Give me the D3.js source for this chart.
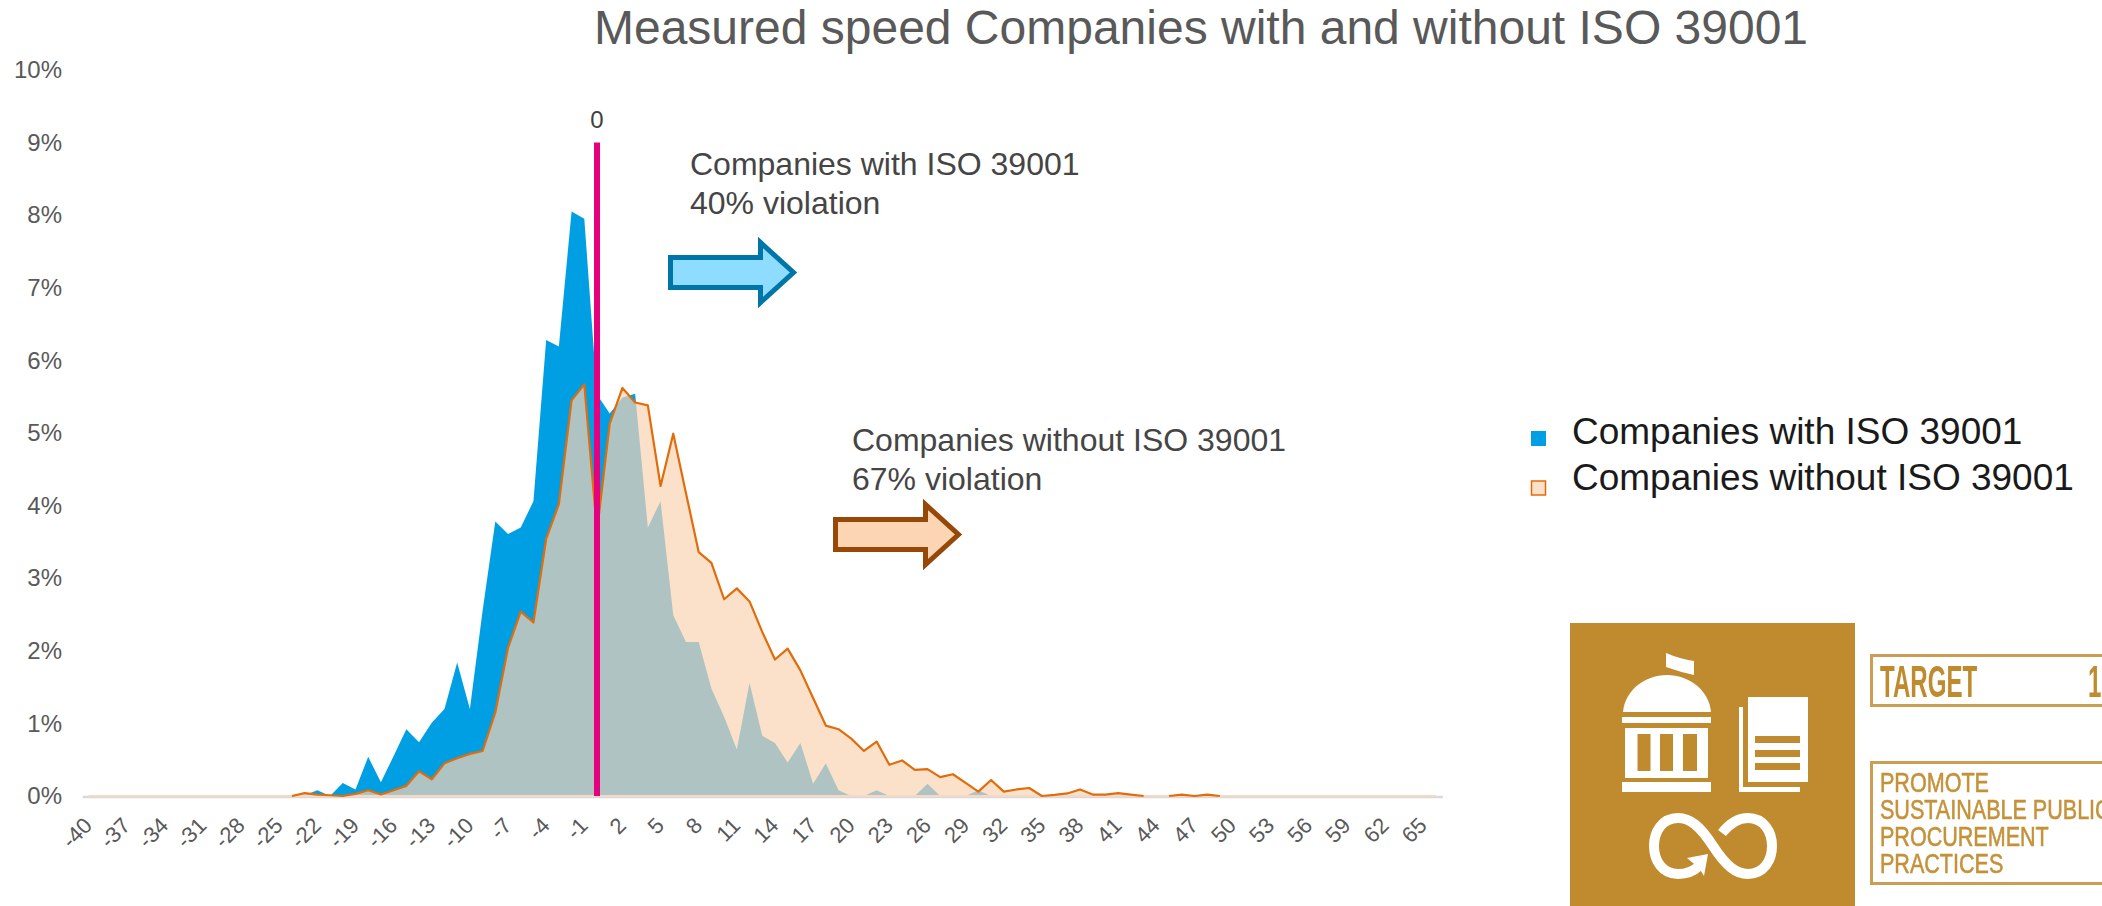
<!DOCTYPE html>
<html>
<head>
<meta charset="utf-8">
<script src="https://cdn.jsdelivr.net/npm/d3@7"></script>
<style>
  html, body { margin: 0; background: #fff; overflow: hidden; }
  text { font-family: "Liberation Sans", Arial, sans-serif; }
</style>
</head>
<body>
<div id="chart"></div>
<script>
const categories = [
  -40, -39, -38, -37, -36, -35, -34, -33, -32, -31,
  -30, -29, -28, -27, -26, -25, -24, -23, -22, -21,
  -20, -19, -18, -17, -16, -15, -14, -13, -12, -11,
  -10, -9, -8, -7, -6, -5, -4, -3, -2, -1,
  0, 1, 2, 3, 4, 5, 6, 7, 8, 9,
  10, 11, 12, 13, 14, 15, 16, 17, 18, 19,
  20, 21, 22, 23, 24, 25, 26, 27, 28, 29,
  30, 31, 32, 33, 34, 35, 36, 37, 38, 39,
  40, 41, 42, 43, 44, 45, 46, 47, 48, 49,
  50, 51, 52, 53, 54, 55, 56, 57, 58, 59,
  60, 61, 62, 63, 64, 65, 66
]
const withIso = [
  0, 0, 0, 0, 0, 0, 0, 0, 0, 0,
  0, 0, 0, 0, 0, 0, 0, 0.01, 0.08, 0,
  0.18, 0.09, 0.54, 0.19, 0.55, 0.92, 0.74, 1.01, 1.2, 1.84,
  1.2, 2.55, 3.78, 3.61, 3.7, 4.06, 6.28, 6.19, 8.05, 7.95,
  5.53, 5.27, 5.49, 5.54, 3.7, 4.06, 2.49, 2.12, 2.12, 1.48,
  1.09, 0.64, 1.56, 0.83, 0.73, 0.46, 0.73, 0.17, 0.45, 0.08,
  0, 0, 0.08, 0, 0, 0, 0.17, 0, 0, 0,
  0.08, 0, 0, 0, 0, 0, 0, 0, 0, 0,
  0, 0, 0, 0, 0, 0, 0, 0, 0, 0,
  0, 0, 0, 0, 0, 0, 0, 0, 0, 0,
  0, 0, 0, 0, 0, 0, 0
]
const withoutIso = [
  0, 0, 0, 0, 0, 0, 0, 0, 0, 0,
  0, 0, 0, 0, 0, 0, 0, 0.04, 0.02, 0.01,
  0, 0.03, 0.08, 0.02, 0.08, 0.14, 0.34, 0.23, 0.45, 0.52,
  0.58, 0.62, 1.15, 2.04, 2.54, 2.39, 3.54, 4.02, 5.45, 5.67,
  3.65, 5.13, 5.62, 5.42, 5.38, 4.27, 4.99, 4.17, 3.36, 3.21,
  2.71, 2.86, 2.68, 2.26, 1.88, 2.03, 1.73, 1.35, 0.97, 0.92,
  0.79, 0.62, 0.75, 0.43, 0.49, 0.36, 0.37, 0.26, 0.3, 0.18,
  0.06, 0.22, 0.06, 0.09, 0.11, 0, 0.015, 0.035, 0.09, 0.02,
  0.02, 0.04, 0.02, 0, 0, 0, 0.02, 0, 0.02, 0,
  0, 0, 0, 0, 0, 0, 0, 0, 0, 0,
  0, 0, 0, 0, 0, 0, 0
]
const xTickLabels = [
  -40, -37, -34, -31, -28, -25, -22, -19, -16, -13, -10, -7, -4, -1,
  2, 5, 8, 11, 14, 17, 20, 23, 26, 29, 32, 35, 38, 41, 44, 47, 50, 53, 56, 59, 62, 65
]
const yTicks = [0, 1, 2, 3, 4, 5, 6, 7, 8, 9, 10]
const zeroLineTop = 9
const legendLabels = ['Companies with ISO 39001', 'Companies without ISO 39001']
const noteWith = ['Companies with ISO 39001', '40% violation']
const noteWithout = ['Companies without ISO 39001', '67% violation']
const promoteLines = ['PROMOTE', 'SUSTAINABLE PUBLIC', 'PROCUREMENT', 'PRACTICES']

const width = 2102
const height = 906
const gold = '#bf8b2e'

const svg = d3
  .select('#chart')
  .append('svg')
  .attr('width', width)
  .attr('height', height)
  .style('display', 'block')

// the badge in the reference is a soft, scaled up image
svg
  .append('filter')
  .attr('id', 'soft')
  .append('feGaussianBlur')
  .attr('stdDeviation', 0.6)

// scales
const xScale = d3.scalePoint().domain(categories).range([82.2, 1442.3]).padding(0.5)
const yScale = d3.scaleLinear().domain([0, 10]).range([796, 70])

// title
svg
  .append('text')
  .attr('x', 1201)
  .attr('y', 44)
  .attr('text-anchor', 'middle')
  .attr('font-size', 48)
  .attr('fill', '#595959')
  .text('Measured speed Companies with and without ISO 39001')

// areas
const area = (values) =>
  d3
    .area()
    .x((d, i) => xScale(categories[i]))
    .y0(yScale(0))
    .y1((d) => yScale(d))(values)

svg.append('path').attr('d', area(withIso)).attr('fill', '#009fe3')
svg
  .append('path')
  .attr('d', area(withoutIso))
  .attr('fill', '#fad4b3')
  .attr('fill-opacity', 0.7)

// axes
const xAxis = svg
  .append('g')
  .attr('transform', `translate(0, ${yScale(0) + 0.5})`)
  .call(d3.axisBottom(xScale).tickValues(xTickLabels).tickSize(0))
xAxis.select('.domain').attr('stroke', '#d9d9d9').attr('stroke-width', 2.5)
xAxis
  .selectAll('text')
  .attr('font-family', '"Liberation Sans", Arial, sans-serif')
  .attr('font-size', 22)
  .attr('fill', '#595959')
  .attr('text-anchor', 'end')
  .attr('x', 0)
  .attr('y', 0)
  .attr('dy', '0.35em')
  .attr('transform', 'translate(-1, 25) rotate(-45)')

const yAxis = svg
  .append('g')
  .attr('transform', 'translate(62, 0)')
  .call(d3.axisLeft(yScale).tickValues(yTicks).tickSize(0).tickPadding(0).tickFormat((d) => d + '%'))
yAxis.select('.domain').remove()
yAxis
  .selectAll('text')
  .attr('font-family', '"Liberation Sans", Arial, sans-serif')
  .attr('font-size', 24)
  .attr('fill', '#595959')

// peach baseline, the orange stroke only shows where the series is above zero
svg
  .append('line')
  .attr('x1', xScale(categories[0]))
  .attr('x2', xScale(categories[categories.length - 1]))
  .attr('y1', yScale(0))
  .attr('y2', yScale(0))
  .attr('stroke', '#f3d9c6')
  .attr('stroke-width', 2)

const orangeLine = d3
  .line()
  .defined((d, i) => d > 0 || withoutIso[i - 1] > 0 || withoutIso[i + 1] > 0)
  .x((d, i) => xScale(categories[i]))
  .y((d) => yScale(d))
svg
  .append('path')
  .attr('d', orangeLine(withoutIso))
  .attr('fill', 'none')
  .attr('stroke', '#e36c0a')
  .attr('stroke-width', 2.2)
  .attr('stroke-linejoin', 'round')

// zero marker
svg
  .append('line')
  .attr('x1', xScale(0))
  .attr('x2', xScale(0))
  .attr('y1', yScale(0))
  .attr('y2', yScale(zeroLineTop))
  .attr('stroke', '#e6007e')
  .attr('stroke-width', 6)
svg
  .append('text')
  .attr('x', xScale(0))
  .attr('y', 128)
  .attr('text-anchor', 'middle')
  .attr('font-size', 24)
  .attr('fill', '#404040')
  .text('0')

// notes and arrows
const drawNote = (lines, x, y) => {
  svg
    .append('g')
    .selectAll('text')
    .data(lines)
    .join('text')
    .attr('x', x)
    .attr('y', (d, i) => y + i * 39)
    .attr('font-size', 32)
    .attr('fill', '#454545')
    .text((d) => d)
}
drawNote(noteWith, 690, 175)
drawNote(noteWithout, 852, 451)

const drawArrow = (x, y, fill, stroke) => {
  svg
    .append('path')
    .attr('transform', `translate(${x}, ${y})`)
    .attr('d', 'M0 -15 H90 V-30 L123 0 L90 30 V15 H0 Z')
    .attr('fill', fill)
    .attr('stroke', stroke)
    .attr('stroke-width', 5)
}
drawArrow(670.5, 272.5, '#8edcff', '#0076a8')
drawArrow(835.5, 534.5, '#fcd5b5', '#974706')

// legend
const legend = svg.append('g')
legend
  .selectAll('text')
  .data(legendLabels)
  .join('text')
  .attr('x', 1572)
  .attr('y', (d, i) => 444 + i * 46)
  .attr('font-size', 37)
  .attr('fill', '#1a1a1a')
  .text((d) => d)
legend
  .append('rect')
  .attr('x', 1531)
  .attr('y', 431)
  .attr('width', 15)
  .attr('height', 15)
  .attr('fill', '#009fe3')
legend
  .append('rect')
  .attr('x', 1531.5)
  .attr('y', 481)
  .attr('width', 14)
  .attr('height', 14)
  .attr('fill', '#fbe1ca')
  .attr('stroke', '#e36c0a')
  .attr('stroke-width', 1.5)

// target badge
const badge = svg.append('g').attr('filter', 'url(#soft)')
badge.append('rect').attr('x', 1570).attr('y', 623).attr('width', 285).attr('height', 290).attr('fill', gold)

const icon = badge.append('g').attr('fill', '#fff')
icon.append('path').attr('d', 'M1666 653 Q1680 659 1694 661 V675 Q1680 672 1666 667 Z')
icon.append('path').attr('d', 'M1623 712 C1625 690 1645 675 1667 675 C1689 675 1709 690 1711 712 Z')
icon.append('rect').attr('x', 1622).attr('y', 717).attr('width', 89).attr('height', 6)
icon.append('rect').attr('x', 1625).attr('y', 728).attr('width', 83).attr('height', 50)
icon.append('rect').attr('x', 1622).attr('y', 782).attr('width', 89).attr('height', 10)
icon.append('rect').attr('x', 1748).attr('y', 697).attr('width', 60).attr('height', 85)
icon.append('rect').attr('x', 1739).attr('y', 707).attr('width', 4).attr('height', 85)
icon.append('rect').attr('x', 1739).attr('y', 787).attr('width', 61).attr('height', 5)
icon.append('path').attr('d', 'M1687 858 L1708 854 L1704 876 L1699 868 Z')

const windows = badge.append('g').attr('fill', gold)
windows.append('rect').attr('x', 1637.5).attr('y', 734).attr('width', 13).attr('height', 37)
windows.append('rect').attr('x', 1660).attr('y', 734).attr('width', 13).attr('height', 37)
windows.append('rect').attr('x', 1683).attr('y', 734).attr('width', 14).attr('height', 37)
windows.append('rect').attr('x', 1755).attr('y', 736).attr('width', 45).attr('height', 7)
windows.append('rect').attr('x', 1755).attr('y', 750).attr('width', 45).attr('height', 7)
windows.append('rect').attr('x', 1755).attr('y', 763).attr('width', 45).attr('height', 7)

badge
  .append('path')
  .attr('d', 'M1713 846 C1700 826 1690 818 1678 818 C1662 818 1654 832 1654 846 C1654 860 1662 874 1678 874 C1688 874 1695 870 1699 866 M1713 846 C1726 866 1736 874 1748 874 C1764 874 1772 860 1772 846 C1772 832 1764 818 1748 818 C1738 818 1730 823 1722 833')
  .attr('fill', 'none')
  .attr('stroke', '#fff')
  .attr('stroke-width', 10)

badge
  .append('rect')
  .attr('x', 1871.5)
  .attr('y', 655.5)
  .attr('width', 300)
  .attr('height', 50)
  .attr('fill', 'none')
  .attr('stroke', '#cb9f52')
  .attr('stroke-width', 3)
badge
  .append('text')
  .attr('transform', 'translate(1880, 697) scale(0.547, 1)')
  .attr('font-weight', 'bold')
  .attr('font-size', 44)
  .attr('fill', gold)
  .text('TARGET')
badge
  .append('text')
  .attr('transform', 'translate(2088, 697) scale(0.547, 1)')
  .attr('font-weight', 'bold')
  .attr('font-size', 44)
  .attr('fill', gold)
  .text('12')
badge
  .append('rect')
  .attr('x', 1871.5)
  .attr('y', 762.5)
  .attr('width', 300)
  .attr('height', 121)
  .attr('fill', 'none')
  .attr('stroke', '#cb9f52')
  .attr('stroke-width', 3)
badge
  .append('g')
  .selectAll('text')
  .data(promoteLines)
  .join('text')
  .attr('transform', (d, i) => `translate(1880, ${792 + i * 27}) scale(0.77, 1)`)
  .attr('font-size', 28)
  .attr('fill', '#c4923a')
  .attr('stroke', '#c4923a')
  .attr('stroke-width', 0.6)
  .text((d) => d)
</script>
</body>
</html>
